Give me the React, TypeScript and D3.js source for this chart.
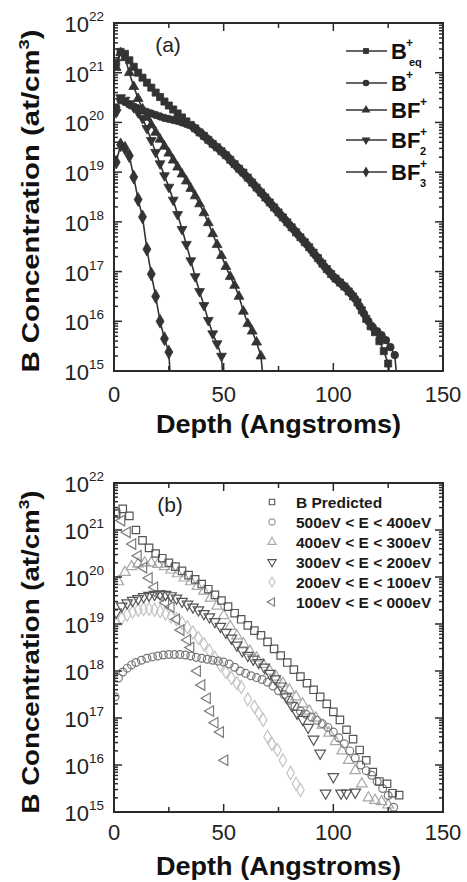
import React from 'react';
import * as d3 from 'd3';

const FONT = "'Liberation Sans', Arial, Helvetica, sans-serif";

// ---------- axis ticks ----------
const X_TICKS = [0, 50, 100, 150];
const X_MINOR = [25, 75, 125];
const Y_EXPONENTS = [15, 16, 17, 18, 19, 20, 21, 22];

// ---------- panel (a): [depth Å, log10 concentration] ----------
const aBeq: [number, number][] = [
  [1, 21.2], [3, 21.42], [5, 21.38], [7, 21.25], [9, 21.12], [11, 21.0], [13, 20.9], [15, 20.8], [17, 20.7],
  [19, 20.6], [21, 20.51], [23, 20.42], [25, 20.34], [27, 20.26], [29, 20.18], [31, 20.1], [33, 20.02],
  [35, 19.95], [37, 19.88], [39, 19.8], [41, 19.73], [43, 19.65], [45, 19.57], [47, 19.5], [49, 19.42],
  [51, 19.34], [53, 19.25], [55, 19.16], [57, 19.07], [59, 18.99], [61, 18.89], [63, 18.79], [65, 18.69],
  [67, 18.59], [69, 18.49], [71, 18.39], [73, 18.29], [75, 18.19], [77, 18.09], [79, 17.99], [81, 17.89],
  [83, 17.79], [85, 17.69], [87, 17.59], [89, 17.49], [91, 17.38], [93, 17.27], [95, 17.16], [97, 17.05],
  [99, 16.95], [101, 16.86], [103, 16.78], [105, 16.7], [107, 16.6], [109, 16.5], [111, 16.38], [113, 16.22],
  [115, 16.05], [117, 15.9], [119, 15.78], [121, 15.6], [123, 15.4], [125, 15.15], [126.5, 14.7],
];
const aBplus: [number, number][] = [
  [1, 20.3], [3, 20.45], [5, 20.41], [7, 20.36], [9, 20.32], [11, 20.28], [13, 20.24], [15, 20.21], [17, 20.18],
  [19, 20.15], [21, 20.12], [23, 20.09], [25, 20.07], [27, 20.05], [29, 20.03], [31, 20.0], [33, 19.97],
  [36, 19.91], [38, 19.84], [40, 19.77], [42, 19.69], [44, 19.61], [46, 19.53], [48, 19.46], [50, 19.38],
  [52, 19.3], [54, 19.2], [56, 19.11], [58, 19.02], [60, 18.93], [62, 18.84], [64, 18.74], [66, 18.64],
  [68, 18.54], [70, 18.44], [72, 18.34], [74, 18.24], [76, 18.14], [78, 18.04], [80, 17.94], [82, 17.84],
  [84, 17.74], [86, 17.64], [88, 17.54], [90, 17.43], [92, 17.32], [94, 17.21], [96, 17.1], [98, 17.0],
  [100, 16.9], [102, 16.82], [104, 16.74], [106, 16.66], [108, 16.56], [110, 16.45], [112, 16.3], [114, 16.15],
  [116, 16.0], [118, 15.88], [120, 15.8], [122, 15.72], [124, 15.62], [126, 15.48], [128, 15.32], [129.5, 14.6],
];
const aBF: [number, number][] = [
  [1, 21.1], [3, 21.4], [5, 21.3], [7, 21.0], [9, 20.72], [11, 20.48], [13, 20.27], [15, 20.1], [17, 19.95],
  [19, 19.8], [21, 19.66], [23, 19.52], [25, 19.38], [27, 19.24], [29, 19.1], [31, 18.96], [33, 18.82],
  [35, 18.67], [37, 18.52], [39, 18.36], [41, 18.18], [43, 17.98], [45, 17.76], [47, 17.54], [49, 17.32],
  [51, 17.1], [53, 16.9], [55, 16.72], [57, 16.5], [59, 16.2], [61, 15.95], [63, 15.8], [65, 15.58],
  [67, 15.3], [68.5, 14.6],
];
const aBF2: [number, number][] = [
  [1, 20.2], [3, 20.5], [5, 20.45], [7, 20.38], [9, 20.3], [11, 20.2], [13, 20.08], [15, 19.88], [17, 19.64],
  [19, 19.4], [21, 19.17], [23, 18.93], [25, 18.7], [27, 18.44], [29, 18.15], [31, 17.85], [33, 17.55],
  [35, 17.22], [37, 16.9], [39, 16.6], [41, 16.32], [43, 16.02], [45, 15.75], [47, 15.55], [49, 15.3],
  [50, 14.6],
];
const aBF3: [number, number][] = [
  [1, 19.2], [3, 19.55], [5, 19.48], [7, 19.33], [9, 18.9], [11, 18.45], [13, 18.1], [15, 17.45], [17, 16.95],
  [19, 16.5], [21, 16.0], [23, 15.65], [25, 15.38], [26, 14.6],
];

// ---------- panel (b): [depth Å, log10 concentration] ----------
const bPredicted: [number, number][] = [
  [1, 21.35], [4, 21.45], [7, 21.3], [10, 21.0], [13, 20.78], [16, 20.62], [19, 20.5], [22, 20.4], [25, 20.3],
  [28, 20.22], [31, 20.13], [34, 20.04], [37, 19.95], [40, 19.85], [43, 19.74], [46, 19.62], [49, 19.5],
  [52, 19.37], [55, 19.23], [58, 19.1], [61, 18.97], [64, 18.86], [67, 18.76], [70, 18.62], [73, 18.47],
  [76, 18.33], [79, 18.18], [82, 18.03], [85, 17.88], [88, 17.74], [91, 17.6], [94, 17.45], [97, 17.3],
  [100, 17.13], [103, 16.96], [106, 16.75], [109, 16.55], [112, 16.32], [115, 16.1], [118, 15.85],
  [121, 15.65], [124.5, 15.6], [127, 15.4], [130, 15.36],
];
const bE500: [number, number][] = [
  [0.5, 17.45], [2, 17.85], [4, 17.98], [6, 18.06], [8, 18.13], [10, 18.18], [12.5, 18.23], [15, 18.27],
  [17.5, 18.3], [20, 18.32], [22.5, 18.34], [25, 18.35], [27.5, 18.35], [30, 18.35], [32.5, 18.34],
  [35, 18.32], [37.5, 18.29], [40, 18.27], [42.5, 18.25], [45, 18.23], [47.5, 18.21], [50, 18.19],
  [52.5, 18.15], [55, 18.08], [57.5, 18.0], [60, 17.95], [62.5, 17.9], [65, 17.86], [67.5, 17.82],
  [70, 17.76], [72.5, 17.68], [75, 17.58], [77.5, 17.5], [80, 17.38], [82.5, 17.25], [85, 17.15],
  [87.5, 17.08], [90, 17.02], [92.5, 16.95], [95, 16.88], [97.5, 16.8], [100, 16.7], [102.5, 16.58],
  [105, 16.45], [107.5, 16.3], [110, 16.15], [112.5, 16.0], [115, 15.88], [117.5, 15.78], [120, 15.65],
  [122.5, 15.5], [125, 15.35], [127.5, 15.1],
];
const bE400: [number, number][] = [
  [2, 19.9], [5, 20.1], [8, 20.22], [11, 20.28], [14, 20.3], [17, 20.3], [20, 20.27], [23, 20.22],
  [26, 20.15], [29, 20.07], [32, 19.98], [35, 19.9], [38, 19.8], [41, 19.7], [44, 19.55], [47, 19.38],
  [50, 19.18], [53, 18.95], [56, 18.75], [59, 18.58], [62, 18.42], [65, 18.28], [68, 18.14], [71, 18.0],
  [74, 17.87], [77, 17.74], [80, 17.6], [83, 17.45], [86, 17.3], [89, 17.15], [92, 17.0], [95, 16.85],
  [98, 16.68], [101, 16.5], [104, 16.3], [107, 16.1], [110, 15.88], [113, 15.6], [116, 15.3],
  [119, 15.25], [122, 15.22], [125, 15.15],
];
const bE300: [number, number][] = [
  [1, 19.25], [3.5, 19.38], [6, 19.45], [8.5, 19.5], [11, 19.54], [13.5, 19.58], [16, 19.61], [18.5, 19.63],
  [21, 19.64], [23.5, 19.63], [26, 19.6], [28.5, 19.55], [31, 19.48], [33.5, 19.42], [36, 19.36],
  [38.5, 19.3], [41, 19.22], [43.5, 19.15], [46, 19.05], [48.5, 18.95], [51, 18.82], [53.5, 18.7],
  [56, 18.55], [58.5, 18.43], [61, 18.33], [63.5, 18.25], [66, 18.18], [68.5, 18.08], [71, 17.95],
  [73.5, 17.83], [76, 17.68], [78.5, 17.45], [81, 17.27], [83.5, 17.1], [86, 16.97], [88.5, 16.8],
  [91, 16.55], [94, 16.25], [96.5, 15.4], [100, 15.75], [103.5, 15.4], [106, 15.4], [110, 15.42],
];
const bE200: [number, number][] = [
  [1, 19.0], [3.5, 19.12], [6, 19.2], [8.5, 19.26], [11, 19.3], [13.5, 19.32], [16, 19.32], [18.5, 19.3],
  [21, 19.27], [23.5, 19.22], [26, 19.16], [28.5, 19.1], [31, 19.02], [33.5, 18.93], [36, 18.82], [38.5, 18.7],
  [41, 18.57], [43.5, 18.43], [46, 18.28], [48.5, 18.13], [51, 17.98], [53.5, 17.85], [56, 17.74],
  [58, 17.66], [61, 17.4], [64, 17.24], [66, 17.1], [68, 16.96], [70, 16.6], [72, 16.45], [74.5, 16.32],
  [77, 16.1], [80.5, 15.83], [83, 15.6], [85, 15.47],
];
const bE100: [number, number][] = [
  [1, 21.35], [3.5, 21.2], [6, 20.95], [8.5, 20.7], [11, 20.45], [13.5, 20.2], [16, 19.98], [18.5, 19.78],
  [21, 19.6], [23.5, 19.45], [26, 19.36], [28.5, 19.1], [30.5, 18.87], [33.5, 18.66], [35, 18.5],
  [38, 18.0], [40, 17.7], [42.5, 17.42], [44, 17.15], [46, 16.9], [48.5, 16.7], [50.5, 16.1],
];

type Shape = 'square' | 'circle' | 'up' | 'down' | 'diamond' | 'left';

function symbolPath(shape: Shape, size: number): string {
  const t =
    shape === 'square' ? d3.symbolSquare :
    shape === 'circle' ? d3.symbolCircle :
    shape === 'diamond' ? d3.symbolDiamond : d3.symbolTriangle;
  return d3.symbol().type(t).size(size)() as string;
}
function rot(shape: Shape) {
  return shape === 'down' ? 180 : shape === 'left' ? -90 : 0;
}

interface Series {
  data: [number, number][];
  shape: Shape;
  color: string;
  filled: boolean;
  line: boolean;
  size: number;
}

interface PanelProps {
  left: number; right: number; top: number; bottom: number;
  tag: string; tagX: number; tagY: number;
  series: Series[];
  id: string;
  titleLen: number; titleCy: number;
  xTitleY: number; xTickY: number;
  children?: React.ReactNode;
}

function Panel(p: PanelProps) {
  const x = d3.scaleLinear().domain([0, 150]).range([p.left, p.right]);
  const y = d3.scaleLog().domain([1e15, 1e22]).range([p.bottom, p.top]);
  const line = d3.line<[number, number]>().x(d => x(d[0])).y(d => y(Math.pow(10, d[1])));
  const ink = '#2a2a2a';
  const ticks: React.ReactNode[] = [];
  Y_EXPONENTS.forEach((e, i) => {
    const yy = y(Math.pow(10, e));
    ticks.push(<line key={'yl' + e} x1={p.left} x2={p.left + 8} y1={yy} y2={yy} />);
    ticks.push(<line key={'yr' + e} x1={p.right} x2={p.right - 8} y1={yy} y2={yy} />);
    if (i < Y_EXPONENTS.length - 1) {
      for (let k = 2; k <= 9; k++) {
        const ym = y(k * Math.pow(10, e));
        ticks.push(<line key={`ml${e}-${k}`} x1={p.left} x2={p.left + 4} y1={ym} y2={ym} />);
        ticks.push(<line key={`mr${e}-${k}`} x1={p.right} x2={p.right - 4} y1={ym} y2={ym} />);
      }
    }
  });
  X_TICKS.forEach(v => {
    const xx = x(v);
    ticks.push(<line key={'xb' + v} x1={xx} x2={xx} y1={p.bottom} y2={p.bottom - 8} />);
    ticks.push(<line key={'xt' + v} x1={xx} x2={xx} y1={p.top} y2={p.top + 8} />);
  });
  X_MINOR.forEach(v => {
    const xx = x(v);
    ticks.push(<line key={'mb' + v} x1={xx} x2={xx} y1={p.bottom} y2={p.bottom - 5} />);
    ticks.push(<line key={'mt' + v} x1={xx} x2={xx} y1={p.top} y2={p.top + 5} />);
  });

  return (
    <g>
      <defs>
        <clipPath id={p.id}>
          <rect x={p.left} y={p.top} width={p.right - p.left} height={p.bottom - p.top} />
        </clipPath>
      </defs>
      <g clipPath={`url(#${p.id})`}>
        {p.series.map((s, si) => (
          <g key={si}>
            {s.line && <path d={line(s.data) as string} fill="none" stroke={s.color} strokeWidth={1.6} />}
            {s.data.map((d, i) => (
              <path
                key={i}
                d={symbolPath(s.shape, s.size)}
                transform={`translate(${x(d[0])},${y(Math.pow(10, d[1]))}) rotate(${rot(s.shape)})`}
                fill={s.filled ? s.color : 'none'}
                stroke={s.color}
                strokeWidth={s.filled ? 0.8 : 1.2}
              />
            ))}
          </g>
        ))}
      </g>
      <g stroke={ink} strokeWidth={1.5}>{ticks}</g>
      <rect x={p.left} y={p.top} width={p.right - p.left} height={p.bottom - p.top} fill="none" stroke={ink} strokeWidth={2} />
      {Y_EXPONENTS.map(e => (
        <text key={'yt' + e} x={p.left - 10} y={y(Math.pow(10, e)) + 9} textAnchor="end" fontSize={22} fill="#222">
          10<tspan dy={-11} fontSize={13.5}>{e}</tspan>
        </text>
      ))}
      {X_TICKS.map(v => (
        <text key={'xtl' + v} x={x(v)} y={p.xTickY} textAnchor="middle" fontSize={22} fill="#222">{v}</text>
      ))}
      <text x={p.tagX} y={p.tagY} textAnchor="middle" fontSize={21} fill="#222">{p.tag}</text>
      <text
        transform={`translate(39,${p.titleCy}) rotate(-90)`}
        textAnchor="middle" fontSize={24} fontWeight="bold" fill="#111"
        textLength={p.titleLen} lengthAdjust="spacingAndGlyphs"
      >
        B Concentration (at/cm<tspan dy={-10} fontSize={15}>3</tspan><tspan dy={10}>)</tspan>
      </text>
      <text x={(155 + 402) / 2} y={p.xTitleY} textAnchor="middle" fontSize={25} fontWeight="bold" fill="#111"
        textLength={245} lengthAdjust="spacingAndGlyphs">Depth (Angstroms)</text>
      {p.children}
    </g>
  );
}

const A_SERIES: Series[] = [
  { data: aBF3, shape: 'diamond', color: '#333', filled: true, line: true, size: 55 },
  { data: aBF2, shape: 'down', color: '#333', filled: true, line: true, size: 42 },
  { data: aBF, shape: 'up', color: '#333', filled: true, line: true, size: 42 },
  { data: aBplus, shape: 'circle', color: '#333', filled: true, line: true, size: 45 },
  { data: aBeq, shape: 'square', color: '#333', filled: true, line: true, size: 50 },
];

const B_SERIES: Series[] = [
  { data: bE200, shape: 'diamond', color: '#c4c4c4', filled: false, line: false, size: 50 },
  { data: bE400, shape: 'up', color: '#a8a8a8', filled: false, line: false, size: 48 },
  { data: bE100, shape: 'left', color: '#7a7a7a', filled: false, line: false, size: 48 },
  { data: bE500, shape: 'circle', color: '#777', filled: false, line: false, size: 48 },
  { data: bE300, shape: 'down', color: '#555', filled: false, line: false, size: 48 },
  { data: bPredicted, shape: 'square', color: '#555', filled: false, line: false, size: 55 },
];

const A_LEGEND: { shape: Shape; base: string; sub?: string }[] = [
  { shape: 'square', base: 'B', sub: 'eq' },
  { shape: 'circle', base: 'B' },
  { shape: 'up', base: 'BF' },
  { shape: 'down', base: 'BF', sub: '2' },
  { shape: 'diamond', base: 'BF', sub: '3' },
];
const A_LEGEND_Y = [51, 83, 110, 140, 172];

const B_LEGEND_LABELS = [
  'B Predicted',
  '500eV < E < 400eV',
  '400eV < E < 300eV',
  '300eV < E < 200eV',
  '200eV < E < 100eV',
  '100eV < E < 000eV',
];
const B_LEGEND_SHAPES: { shape: Shape; color: string }[] = [
  { shape: 'square', color: '#555' },
  { shape: 'circle', color: '#999' },
  { shape: 'up', color: '#aaa' },
  { shape: 'down', color: '#555' },
  { shape: 'diamond', color: '#c4c4c4' },
  { shape: 'left', color: '#777' },
];

export default function App() {
  return (
    <svg width={467} height={882} style={{ position: 'absolute', left: 0, top: 0, fontFamily: FONT, background: '#fff' }}>
      <rect x={0} y={0} width={467} height={882} fill="#fff" />
      <Panel id="clipA" left={114} right={443} top={23} bottom={371} tag="(a)" tagX={168} tagY={52}
        series={A_SERIES} titleLen={343} titleCy={201} xTitleY={433} xTickY={402}>
        {A_LEGEND.map((l, i) => {
          const yy = A_LEGEND_Y[i];
          const subX = l.base === 'B' ? 406 : 420;
          return (
            <g key={i}>
              <line x1={346} x2={387} y1={yy} y2={yy} stroke="#333" strokeWidth={1.6} />
              <path d={symbolPath(l.shape, 34)} transform={`translate(366,${yy}) rotate(${rot(l.shape)})`} fill="#333" />
              <text x={391} y={yy + 8} fontSize={22} fontWeight="bold" fill="#111">{l.base}</text>
              <text x={subX} y={yy - 4} fontSize={12} fontWeight="bold" fill="#111">+</text>
              {l.sub && (
                <text x={subX + (l.sub === 'eq' ? 3 : 0)} y={yy + 15} fontSize={11} fontWeight="bold" fill="#111">{l.sub}</text>
              )}
            </g>
          );
        })}
      </Panel>
      <Panel id="clipB" left={114} right={443} top={483} bottom={812} tag="(b)" tagX={170} tagY={512}
        series={B_SERIES} titleLen={323} titleCy={652} xTitleY={875} xTickY={840}>
        {B_LEGEND_LABELS.map((lab, i) => {
          const yy = 502 + i * 20;
          const s = B_LEGEND_SHAPES[i];
          return (
            <g key={i}>
              <path d={symbolPath(s.shape, 30)} transform={`translate(272,${yy}) rotate(${rot(s.shape)})`}
                fill="none" stroke={s.color} strokeWidth={1.1} />
              <text x={296} y={yy + 6} fontSize={15.5} fontWeight="bold" fill="#1a1a1a">{lab}</text>
            </g>
          );
        })}
      </Panel>
    </svg>
  );
}
